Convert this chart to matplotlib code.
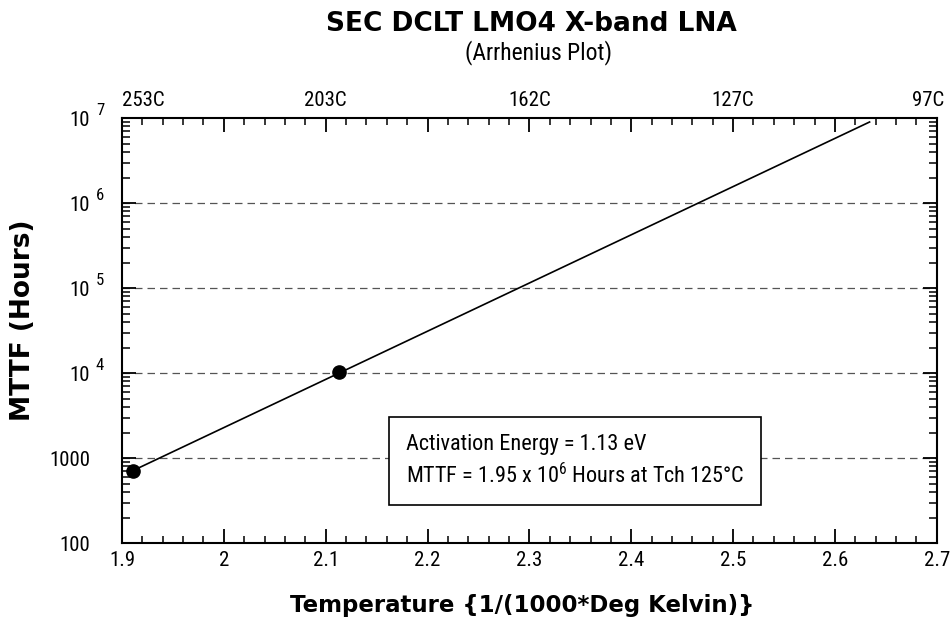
import matplotlib.pyplot as plt
import numpy as np
from matplotlib import font_manager
from matplotlib.ticker import FixedLocator, MultipleLocator, LogLocator, NullFormatter

# pick a narrow font if there is one
names = {f.name for f in font_manager.fontManager.ttflist}
narrow = 'DejaVu Sans'
for cand in ['Liberation Sans Narrow', 'Roboto Condensed', 'Open Sans Condensed', 'DejaVu Sans Condensed']:
    if cand in names:
        narrow = cand
        break
plt.rcParams['font.family'] = [narrow, 'DejaVu Sans']
plt.rcParams['mathtext.fontset'] = 'custom'
plt.rcParams['mathtext.rm'] = narrow
plt.rcParams['mathtext.it'] = narrow

# data
points_x = [1.911, 2.113]
points_y = [715, 10170]
line_x = [1.911, 2.634]
line_y = [715, 9.0e6]

x_ticks = [1.9, 2.0, 2.1, 2.2, 2.3, 2.4, 2.5, 2.6, 2.7]
x_tick_labels = ['1.9', '2', '2.1', '2.2', '2.3', '2.4', '2.5', '2.6', '2.7']
y_ticks = [100, 1000, 1e4, 1e5, 1e6, 1e7]
y_tick_labels = ['100', '1000', '10', '10', '10', '10']
y_exponents = ['', '', '4', '5', '6', '7']
top_ticks = [1.9, 2.1, 2.3, 2.5, 2.7]
top_labels = ['253C', '203C', '162C', '127C', '97C']

fig = plt.figure(figsize=(9.53, 6.2), dpi=100)
ax = fig.add_axes([0.128, 0.124, 0.855, 0.6855])

ax.plot(line_x, line_y, color='black', lw=1.2)
ax.plot(points_x, points_y, 'o', color='black', markersize=9.5)

ax.set_yscale('log')
ax.set_xlim(1.9, 2.7)
ax.set_ylim(100, 1e7)

ax.xaxis.set_major_locator(FixedLocator(x_ticks))
ax.set_xticklabels(x_tick_labels)
ax.xaxis.set_minor_locator(MultipleLocator(0.02))
ax.yaxis.set_major_locator(FixedLocator(y_ticks))
ax.set_yticklabels(y_tick_labels)
ax.yaxis.set_minor_locator(LogLocator(base=10, subs=np.arange(2, 10)))
ax.yaxis.set_minor_formatter(NullFormatter())

ax.tick_params(axis='both', which='both', direction='in', top=True, right=True, colors='black')
ax.tick_params(axis='x', which='major', length=10, width=1.3, labelsize=15, pad=6)
ax.tick_params(axis='x', which='minor', length=5, width=1.1)
ax.tick_params(axis='y', which='major', length=10, width=1.3, labelsize=15, pad=23)
ax.tick_params(axis='y', which='minor', length=6, width=1.1)

for s in ax.spines.values():
    s.set_linewidth(1.5)

# dashed grid
for yv in y_ticks[1:-1]:
    ax.axhline(yv, color='#555555', lw=0.9, ls=(0, (6, 4)), zorder=0)

# exponents for the 10^n labels
for yv, e in zip(y_ticks, y_exponents):
    if e:
        ax.text(-0.027, yv * 1.24, e, transform=ax.get_yaxis_transform(),
                ha='center', va='center', fontsize=12)

# top temperature labels
for i, (xv, lab) in enumerate(zip(top_ticks, top_labels)):
    ha = 'center'
    if i == 0:
        ha = 'left'
    elif i == len(top_ticks) - 1:
        ha = 'right'
    ax.text(xv + (0.007 if i == len(top_ticks) - 1 else 0), 1.02, lab,
            transform=ax.get_xaxis_transform(), ha=ha, va='bottom', fontsize=15)

# annotation box
ax.text(2.1787, 922, 'Activation Energy = 1.13 eV\nMTTF = 1.95 x 10$^6$ Hours at Tch 125\u00b0C',
        fontsize=16, ha='left', va='center', linespacing=1.4,
        bbox=dict(boxstyle='square,pad=0.75', facecolor='white', edgecolor='black', lw=1.2))

fig.text(0.558, 0.961, 'SEC DCLT LMO4 X-band LNA', ha='center', va='center',
         fontsize=19, fontweight='heavy', family='DejaVu Sans')
fig.text(0.565, 0.916, '(Arrhenius Plot)', ha='center', va='center', fontsize=17)
fig.text(0.548, 0.024, 'Temperature {1/(1000*Deg Kelvin)}', ha='center', va='center',
         fontsize=16.5, fontweight='bold', family='DejaVu Sans')
fig.text(0.024, 0.484, 'MTTF (Hours)', ha='center', va='center', rotation=90,
         fontsize=19, fontweight='bold', family='DejaVu Sans')

fig.savefig('out.png', dpi=100)
